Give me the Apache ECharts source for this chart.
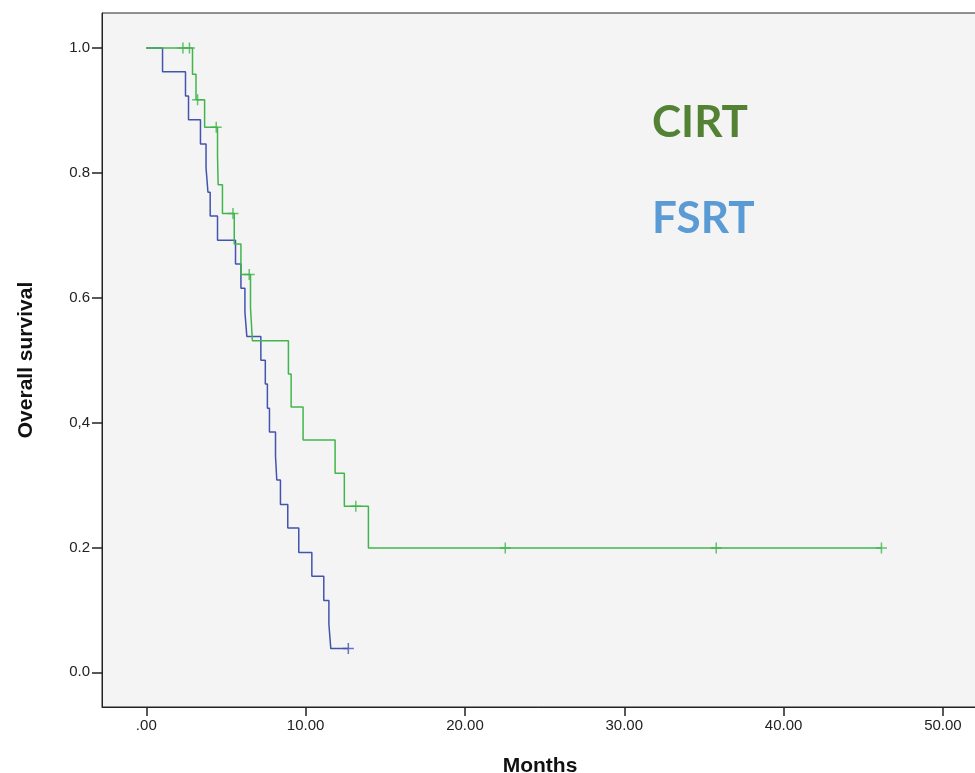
<!DOCTYPE html>
<html>
<head>
<meta charset="utf-8">
<script src="https://cdn.jsdelivr.net/npm/echarts@6/dist/echarts.min.js"></script>
<style>
html,body{margin:0;padding:0;background:#fff;}
#chart{width:975px;height:773px;}
</style>
</head>
<body>
<div id="chart"></div>
<script>
// Tick labels
var xTickValues = [0, 10, 20, 30, 40, 50];
var xTickLabels = ['.00', '10.00', '20.00', '30.00', '40.00', '50.00'];
var yTickValues = [0, 0.2, 0.4, 0.6, 0.8, 1.0];
var yTickLabels = ['0.0', '0.2', '0,4', '0.6', '0.8', '1.0'];

// CIRT (green): event times and survival after each event
var cirtEventTimes = [2.90, 3.12, 3.66, 4.47, 4.51, 4.78, 5.52, 5.94, 6.54, 6.66, 8.92, 9.09, 9.84, 11.85, 12.43, 13.94];
var cirtEventSurv  = [0.958, 0.917, 0.873, 0.827, 0.781, 0.735, 0.686, 0.637, 0.584, 0.531, 0.478, 0.425, 0.372, 0.319, 0.266, 0.199];
var cirtCensorTimes = [2.30, 2.71, 3.22, 4.39, 5.44, 6.46, 13.15, 22.53, 35.77, 46.14];
var cirtCensorSurv  = [1.0, 1.0, 0.917, 0.873, 0.735, 0.637, 0.266, 0.199, 0.199, 0.199];

// FSRT (blue)
var fsrtEventTimes = [1.02, 2.46, 2.65, 3.40, 3.75, 3.87, 4.01, 4.47, 5.60, 5.94, 6.19, 6.31, 7.19, 7.47, 7.60, 7.73, 8.11, 8.19, 8.42, 8.88, 9.57, 10.39, 11.14, 11.46, 11.58];
var fsrtEventSurv  = [0.962, 0.923, 0.885, 0.846, 0.808, 0.769, 0.731, 0.692, 0.654, 0.615, 0.577, 0.538, 0.500, 0.462, 0.423, 0.385, 0.346, 0.308, 0.269, 0.231, 0.192, 0.154, 0.115, 0.077, 0.038];
var fsrtCensorTimes = [12.68];
var fsrtCensorSurv  = [0.038];

function stepPoints(times, surv, endTime) {
  var pts = [[0, 1.0]];
  var prev = 1.0;
  for (var i = 0; i < times.length; i++) {
    pts.push([times[i], prev]);
    pts.push([times[i], surv[i]]);
    prev = surv[i];
  }
  pts.push([endTime, prev]);
  return pts;
}
function zip(a, b) { return a.map(function (v, i) { return [v, b[i]]; }); }

var green = '#40b54c';
var blue = '#4254ad';
var plus = 'path://M4.75,0h1.5v4.75h4.75v1.5h-4.75v4.75h-1.5v-4.75h-4.75v-1.5h4.75z';

var chart = echarts.init(document.getElementById('chart'), null, {renderer: 'canvas'});
var option = {
  animation: false,
  backgroundColor: '#ffffff',
  grid: {
    left: 102, top: 13, right: -3, bottom: 66,
    containLabel: false, outerBoundsMode: 'none',
    show: true, backgroundColor: '#f4f4f4', borderColor: '#222', borderWidth: 1
  },
  xAxis: {
    type: 'value', min: -2.78, max: 52.2,
    name: 'Months', nameLocation: 'middle', nameGap: 49,
    nameTextStyle: {fontFamily: 'Liberation Sans', fontWeight: 'bold', fontSize: 21, color: '#111'},
    axisLine: {show: true, onZero: false, lineStyle: {color: '#222', width: 1}},
    axisTick: {show: true, length: 9, customValues: xTickValues, lineStyle: {color: '#222', width: 1.5}},
    axisLabel: {customValues: xTickValues, fontFamily: 'Liberation Sans', fontSize: 15, color: '#222', margin: 11,
      formatter: function (v) { var i = xTickValues.indexOf(v); return i >= 0 ? xTickLabels[i] : ''; }},
    splitLine: {show: false}
  },
  yAxis: {
    type: 'value', min: -0.0555, max: 1.056,
    name: 'Overall survival', nameLocation: 'middle', nameGap: 65, nameRotate: 90,
    nameTextStyle: {fontFamily: 'Liberation Sans', fontWeight: 'bold', fontSize: 21, color: '#111'},
    axisLine: {show: true, onZero: false, lineStyle: {color: '#222', width: 1}},
    axisTick: {show: true, length: 10, customValues: yTickValues, lineStyle: {color: '#222', width: 1.5}},
    axisLabel: {customValues: yTickValues, fontFamily: 'Liberation Sans', fontSize: 15, color: '#222', margin: 12,
      formatter: function (v) { var i = -1; for (var k = 0; k < yTickValues.length; k++) { if (Math.abs(yTickValues[k] - v) < 1e-6) i = k; } return i >= 0 ? yTickLabels[i] : ''; }},
    splitLine: {show: false}
  },
  series: [
    {
      name: 'CIRT', type: 'line', data: stepPoints(cirtEventTimes, cirtEventSurv, cirtCensorTimes[cirtCensorTimes.length - 1]),
      showSymbol: false, lineStyle: {color: green, width: 1.5}, z: 3
    },
    {
      name: 'FSRT', type: 'line', data: stepPoints(fsrtEventTimes, fsrtEventSurv, fsrtCensorTimes[fsrtCensorTimes.length - 1]),
      showSymbol: false, lineStyle: {color: blue, width: 1.5}, z: 2
    },
    {
      type: 'scatter', data: zip(cirtCensorTimes, cirtCensorSurv), symbol: plus, symbolSize: 11,
      itemStyle: {color: green}, z: 4
    },
    {
      type: 'scatter', data: zip(fsrtCensorTimes, fsrtCensorSurv), symbol: plus, symbolSize: 11,
      itemStyle: {color: blue}, z: 4
    }
  ],
  graphic: [
    {type: 'text', left: 652, top: 101, style: {text: 'CIRT', fill: '#548235', font: 'bold 44px Lato'}},
    {type: 'text', left: 652, top: 197, style: {text: 'FSRT', fill: '#5b9bd5', font: 'bold 44px Lato'}}
  ]
};
chart.setOption(option);
</script>
</body>
</html>
